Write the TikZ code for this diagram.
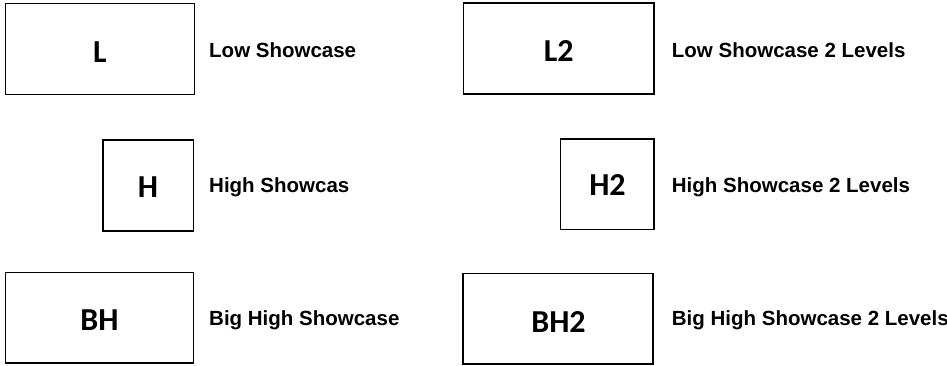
\documentclass[tikz,border=0pt]{standalone}
\usepackage{fontspec}
\setmainfont{Liberation Sans}
\newfontfamily\boxfont{Carlito}
\begin{document}
\begin{tikzpicture}[x=1pt,y=-1pt,
  showbox/.style={draw=black,line width=1.6pt,inner sep=0pt,outer sep=0pt},
  boxtext/.style={anchor=base,inner sep=0pt,font=\boxfont\bfseries\fontsize{32}{32}\selectfont},
  desc/.style={anchor=base west,inner sep=0pt,font=\bfseries\fontsize{20.5}{20.5}\selectfont}]
\useasboundingbox (0,0) rectangle (947,365);
% boxes
\node[showbox,minimum width=189pt,minimum height=91pt] (L) at (100,49) {};
\node[showbox,minimum width=90.5pt,minimum height=91pt] (H) at (148.25,185.5) {};
\node[showbox,minimum width=188pt,minimum height=90.5pt] (BH) at (99.5,317.75) {};
\node[showbox,minimum width=190.5pt,minimum height=91pt] (L2) at (558.75,48.5) {};
\node[showbox,minimum width=93.5pt,minimum height=90.5pt] (H2) at (607.25,184.25) {};
\node[showbox,minimum width=190pt,minimum height=90.5pt] (BH2) at (558,318.75) {};
% box texts
\node[boxtext] (Lt) at (100,62.3) {L};
\node[boxtext] (Ht) at (148,197) {H};
\node[boxtext] (BHt) at (99.5,330) {BH};
\node[boxtext] (L2t) at (558.8,61.7) {L2};
\node[boxtext] (H2t) at (607.5,195) {H2};
\node[boxtext] (BH2t) at (558.5,332) {BH2};
% descriptions
\node[desc] (Ld) at (209,57.3) {Low Showcase};
\node[desc] (Hd) at (209,192) {High Showcas};
\node[desc] (BHd) at (209,325) {Big High Showcase};
\node[desc] (L2d) at (671.7,57.3) {Low Showcase 2 Levels};
\node[desc] (H2d) at (671.7,192) {High Showcase 2 Levels};
\node[desc] (BH2d) at (671.7,325.5) {Big High Showcase 2 Levels};
\end{tikzpicture}
\end{document}
